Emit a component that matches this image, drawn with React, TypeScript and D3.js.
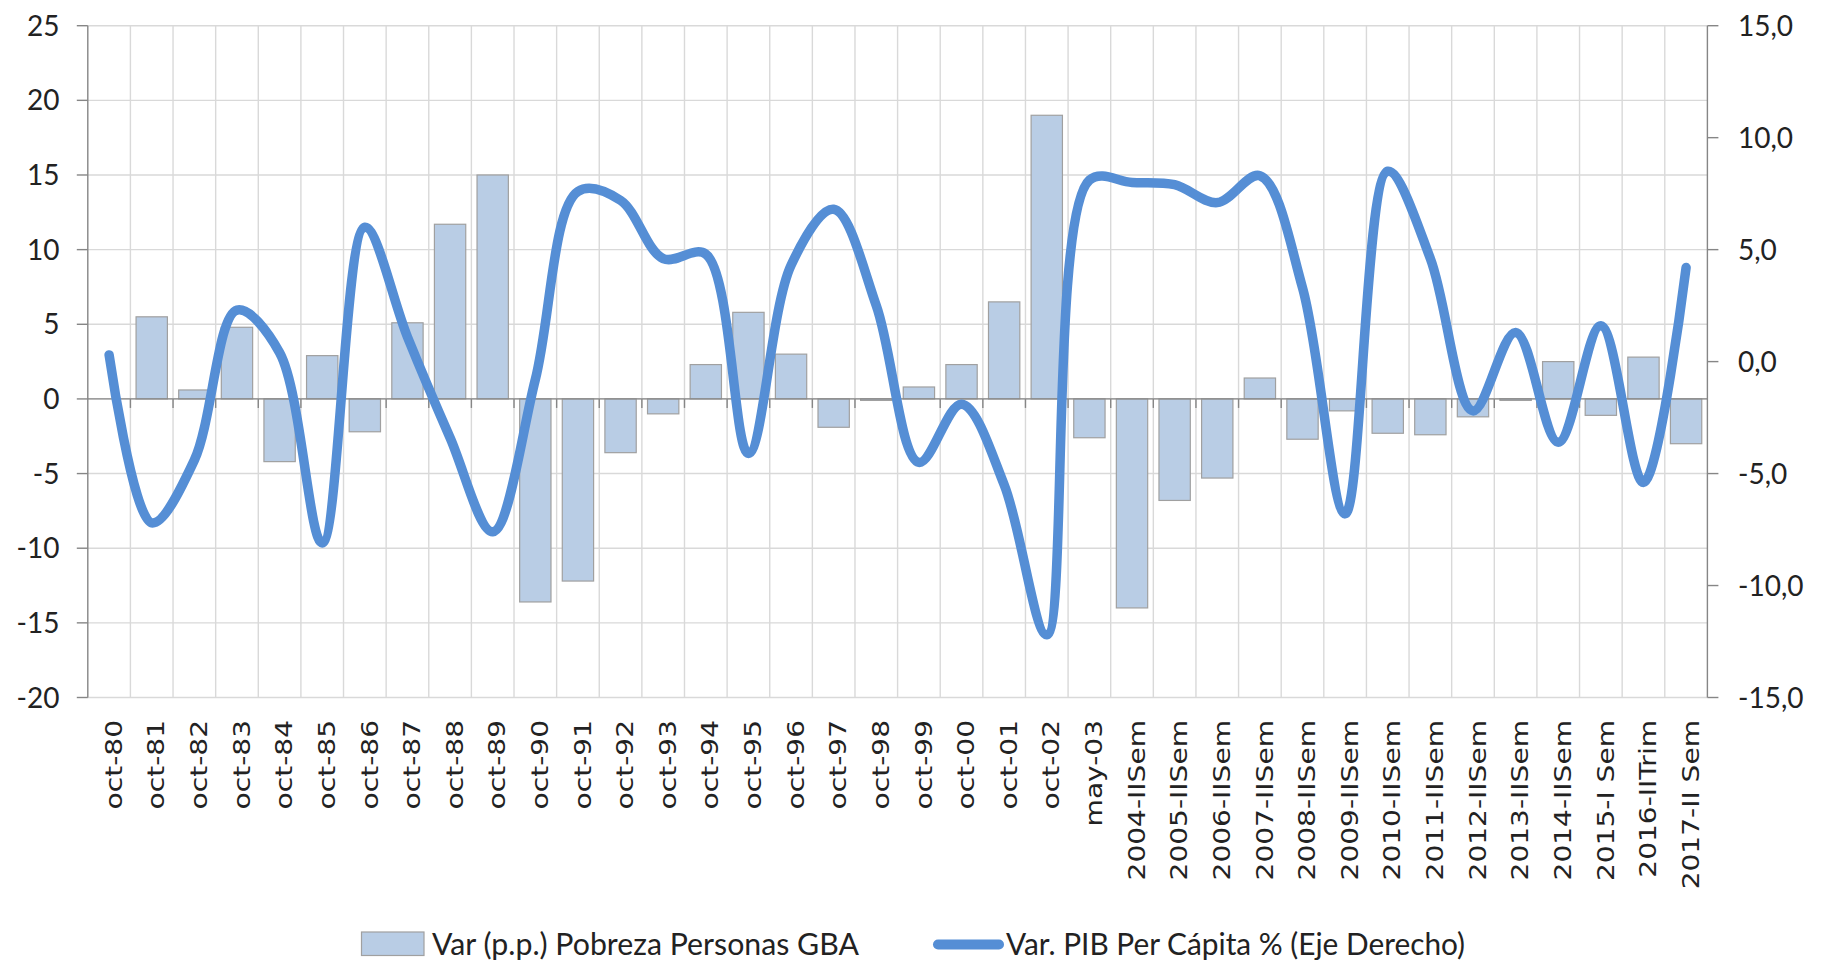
import React from "react";
import * as d3 from "d3";

const categories = [
  "oct-80", "oct-81", "oct-82", "oct-83", "oct-84", "oct-85", "oct-86", "oct-87",
  "oct-88", "oct-89", "oct-90", "oct-91", "oct-92", "oct-93", "oct-94", "oct-95",
  "oct-96", "oct-97", "oct-98", "oct-99", "oct-00", "oct-01", "oct-02", "may-03",
  "2004-IISem", "2005-IISem", "2006-IISem", "2007-IISem", "2008-IISem", "2009-IISem",
  "2010-IISem", "2011-IISem", "2012-IISem", "2013-IISem", "2014-IISem",
  "2015-I Sem", "2016-IITrim", "2017-II Sem",
];

// Var (p.p.) Pobreza Personas GBA (left axis)
const pobreza: (number | null)[] = [
  null, 5.5, 0.6, 4.8, -4.2, 2.9, -2.2, 5.1, 11.7, 15.0, -13.6, -12.2, -3.6, -1.0,
  2.3, 5.8, 3.0, -1.9, -0.1, 0.8, 2.3, 6.5, 19.0, -2.6, -14.0, -6.8, -5.3, 1.4,
  -2.7, -0.8, -2.3, -2.4, -1.2, -0.1, 2.5, -1.1, 2.8, -3.0,
];

// Var. PIB Per Cápita % (right axis)
const pibPerCapita = [
  0.3, -7.2, -4.4, 2.3, 0.4, -8.1, 6.0, 1.1, -3.4, -7.6, -0.8, 7.6, 7.2, 4.6, 4.8,
  -4.1, 4.3, 6.8, 2.5, -4.5, -1.9, -5.5, -12.2, 8.1, 8.0, 7.9, 7.1, 8.3, 3.3, -6.8,
  8.5, 4.6, -2.2, 1.3, -3.6, 1.6, -5.4, 4.2,
];

const leftTicks = [25, 20, 15, 10, 5, 0, -5, -10, -15, -20];
const rightTicks = [15, 10, 5, 0, -5, -10, -15];
const legendLabels = ["Var (p.p.) Pobreza Personas GBA", "Var. PIB Per Cápita % (Eje Derecho)"];

export default function App() {
  const W = 1823;
  const H = 962;
  const plotLeft = 87.8;
  const plotRight = 1707.4;
  const plotTop = 25.7;
  const plotBottom = 697.5;

  const x = d3.scaleBand<string>().domain(categories).range([plotLeft, plotRight]).padding(0);
  const bw = x.bandwidth();
  const barW = bw * 0.735;
  const yL = d3.scaleLinear().domain([-20, 25]).range([plotBottom, plotTop]);
  const yR = d3.scaleLinear().domain([-15, 15]).range([plotBottom, plotTop]);

  const loc = d3.formatLocale({ decimal: ",", thousands: ".", grouping: [3], currency: ["", ""], minus: "-" });
  const fL = loc.format("d");
  const fR = loc.format(".1f");

  const cx = (i: number) => (x(categories[i]) as number) + bw / 2;
  const linePath = d3
    .line<number>()
    .x((_, i) => cx(i))
    .y((d) => yR(d))
    .curve(d3.curveCatmullRom.alpha(0.5))(pibPerCapita) as string;

  const gridColor = "#D9D9D9";
  const axisColor = "#868686";
  const barFill = "#B9CDE5";
  const barStroke = "#A0A0A0";
  const lineColor = "#558ED5";
  const textColor = "#222222";
  const font = "Lato, 'Open Sans', sans-serif";

  const y0 = yL(0);

  return (
    <svg
      width={W}
      height={H}
      style={{ position: "absolute", left: 0, top: 0, background: "#fff" }}
      xmlns="http://www.w3.org/2000/svg"
    >
      <rect x={0} y={0} width={W} height={H} fill="#fff" />
      {/* horizontal gridlines */}
      {leftTicks.map((t) => (
        <line key={"hg" + t} x1={plotLeft} x2={plotRight} y1={yL(t)} y2={yL(t)} stroke={gridColor} strokeWidth={1.4} />
      ))}
      {/* vertical gridlines */}
      {categories.slice(1).map((c) => (
        <line key={"vg" + c} x1={x(c)} x2={x(c)} y1={plotTop} y2={plotBottom} stroke={gridColor} strokeWidth={1.4} />
      ))}
      {/* bars */}
      {pobreza.map((v, i) =>
        v === null ? null : (
          <rect
            key={"b" + i}
            x={cx(i) - barW / 2}
            y={Math.min(yL(v), y0)}
            width={barW}
            height={Math.max(Math.abs(yL(v) - y0), 0.8)}
            fill={barFill}
            stroke={barStroke}
            strokeWidth={1.2}
          />
        )
      )}
      {/* category axis at zero */}
      <line x1={plotLeft} x2={plotRight} y1={y0} y2={y0} stroke={axisColor} strokeWidth={1.4} />
      {categories.slice(1).map((c) => (
        <line key={"ct" + c} x1={x(c)} x2={x(c)} y1={y0} y2={y0 + 9} stroke={axisColor} strokeWidth={1.4} />
      ))}
      {/* left axis */}
      <line x1={plotLeft} x2={plotLeft} y1={plotTop} y2={plotBottom} stroke={axisColor} strokeWidth={1.4} />
      {leftTicks.map((t) => (
        <g key={"lt" + t}>
          <line x1={plotLeft - 11} x2={plotLeft} y1={yL(t)} y2={yL(t)} stroke={axisColor} strokeWidth={1.4} />
          <text x={59.5} y={yL(t)} dy="0.36em" textAnchor="end" fontFamily={font} fontSize={28} fill={textColor}>
            {fL(t)}
          </text>
        </g>
      ))}
      {/* right axis */}
      <line x1={plotRight} x2={plotRight} y1={plotTop} y2={plotBottom} stroke={axisColor} strokeWidth={1.4} />
      {rightTicks.map((t) => (
        <g key={"rt" + t}>
          <line x1={plotRight} x2={plotRight + 11} y1={yR(t)} y2={yR(t)} stroke={axisColor} strokeWidth={1.4} />
          <text x={1738} y={yR(t)} dy="0.36em" textAnchor="start" fontFamily={font} fontSize={28} fill={textColor}>
            {fR(t)}
          </text>
        </g>
      ))}
      {/* category labels */}
      {categories.map((c, i) => (
        <text
          key={"cl" + c}
          transform={`translate(${cx(i)},720) rotate(-90) scale(1.22,1)`}
          dy="0.55em"
          textAnchor="end"
          fontFamily="'DejaVu Sans', sans-serif"
          fontSize={23}
          fill={textColor}
        >
          {c}
        </text>
      ))}
      {/* line series */}
      <path d={linePath} fill="none" stroke={lineColor} strokeWidth={9.5} strokeLinecap="round" strokeLinejoin="round" />
      {/* legend */}
      <rect x={361.5} y={932} width={62.5} height={23.5} fill={barFill} stroke={barStroke} strokeWidth={1.2} />
      <text
        x={432}
        y={955}
        fontFamily={font}
        fontSize={30}
        fill={textColor}
        textLength={427}
        lengthAdjust="spacingAndGlyphs"
      >
        {legendLabels[0]}
      </text>
      <line x1={938} x2={999} y1={944.5} y2={944.5} stroke={lineColor} strokeWidth={10} strokeLinecap="round" />
      <text
        x={1006}
        y={955}
        fontFamily={font}
        fontSize={30}
        fill={textColor}
        textLength={459}
        lengthAdjust="spacingAndGlyphs"
      >
        {legendLabels[1]}
      </text>
    </svg>
  );
}
